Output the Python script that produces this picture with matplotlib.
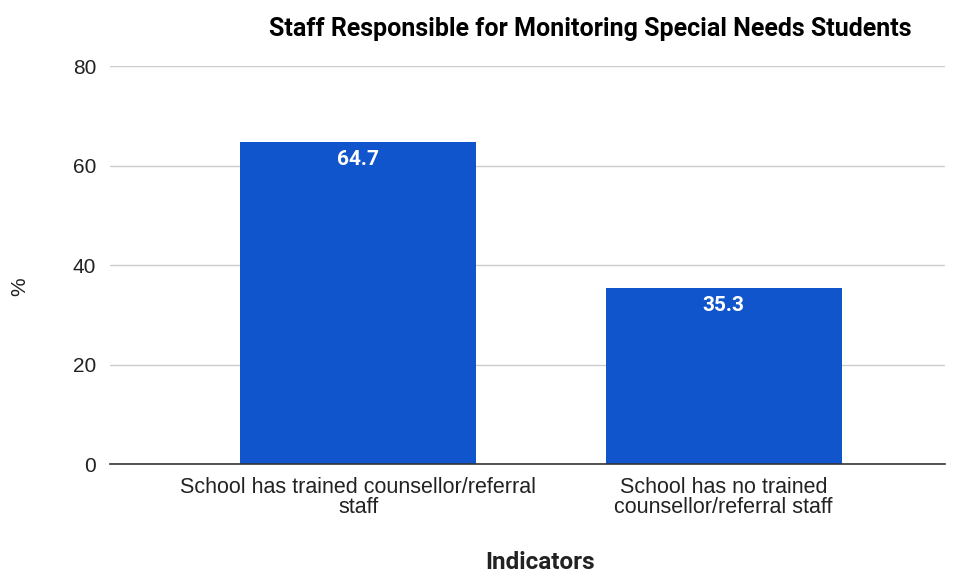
import matplotlib
matplotlib.use("Agg")
import matplotlib.pyplot as plt

categories = ["School has trained counsellor/referral\nstaff",
              "School has no trained\ncounsellor/referral staff"]
values = [64.7, 35.3]
yticks = [0, 20, 40, 60, 80]

fig = plt.figure(figsize=(9.6, 5.76), dpi=100)
ax = fig.add_axes([0.1146, 0.1944, 0.8698, 0.6910])

x = list(range(len(categories)))
bars = ax.bar(x, values, width=0.646, color="#1155cc", zorder=3)

for b, v in zip(bars, values):
    ax.text(b.get_x() + b.get_width() / 2, v - 1.6, f"{v}", ha="center", va="top",
            color="white", fontsize=15, fontweight="bold", family="Roboto", zorder=4)

ax.set_xlim(-0.679, 1.606)
ax.set_ylim(0, 80)
ax.set_yticks(yticks)
ax.set_yticklabels([str(t) for t in yticks], fontsize=15, family="Liberation Sans", color="#222222")
ax.set_xticks(x)
ax.set_xticklabels(categories, fontsize=15.5, family="Liberation Sans", color="#222222", linespacing=0.95)
ax.tick_params(axis="both", length=0, pad=10)
ax.tick_params(axis="x", pad=9)
ax.grid(axis="y", color="#cccccc", linewidth=1, zorder=0)
for s in ["top", "right", "left"]:
    ax.spines[s].set_visible(False)
ax.spines["bottom"].set_color("#333333")
ax.spines["bottom"].set_linewidth(1.2)
ax.spines["bottom"].set_zorder(5)

fig.text(0.615, 0.95, "Staff Responsible for Monitoring Special Needs Students", ha="center", va="center",
         fontsize=18, fontweight="bold", family="Roboto", color="#000000")
fig.text(0.5625, 0.024, "Indicators", ha="center", va="center",
         fontsize=17.5, fontweight="bold", family="Roboto", color="#222222")
fig.text(0.021, 0.502, "%", ha="center", va="center", rotation=90,
         fontsize=15, family="Liberation Sans", color="#222222")

fig.savefig("out.png", dpi=100)
